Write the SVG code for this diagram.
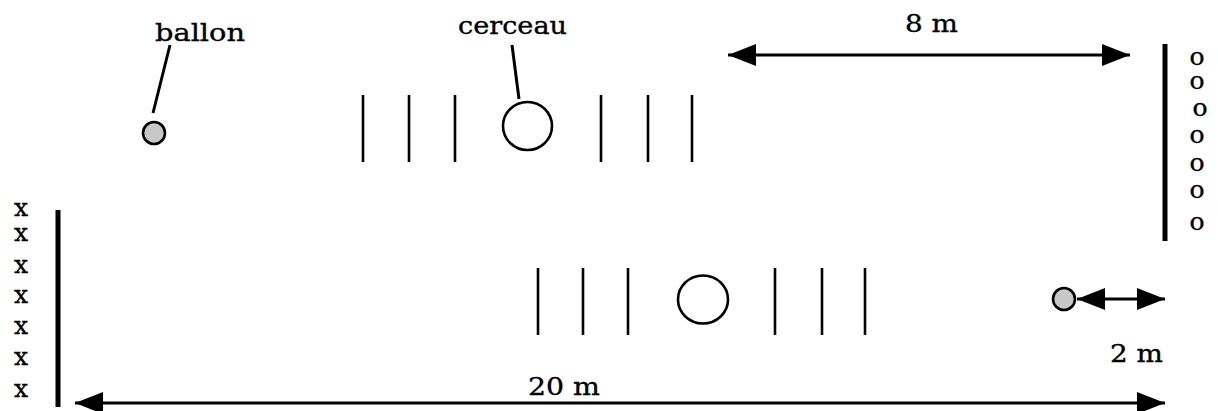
<svg xmlns="http://www.w3.org/2000/svg" width="1218" height="411" viewBox="0 0 1218 411">
<style>
text{font-family:"DejaVu Serif","Liberation Serif",serif;font-size:25px;fill:#000;stroke:#000;stroke-width:0.35}
.bar{stroke:#000;stroke-width:5}
.hurdle{stroke:#000;stroke-width:2.6}
.hoop{fill:none;stroke:#000;stroke-width:2.6}
.ball{fill:#c8c8c8;stroke:#000;stroke-width:2.6}
.leader{stroke:#000;stroke-width:3}
.arrow{stroke:#000;stroke-width:3;fill:none;marker-start:url(#ah);marker-end:url(#ah)}
</style>
<defs>
<marker id="ah" markerUnits="userSpaceOnUse" markerWidth="28" markerHeight="22" refX="28" refY="11" orient="auto-start-reverse" viewBox="0 0 28 22">
<path d="M0,0 L28,11 L0,22 z" fill="#000"/>
</marker>
</defs>
<g id="team-x">
<line class="bar" x1="58" y1="210" x2="58" y2="407"/>
<text x="21" y="216" text-anchor="middle">x</text>
<text x="21" y="241" text-anchor="middle">x</text>
<text x="21" y="273" text-anchor="middle">x</text>
<text x="21" y="303" text-anchor="middle">x</text>
<text x="21" y="334" text-anchor="middle">x</text>
<text x="21" y="365" text-anchor="middle">x</text>
<text x="21" y="397" text-anchor="middle">x</text>
</g>
<g id="team-o">
<line class="bar" x1="1165" y1="44" x2="1165" y2="241"/>
<text x="1197" y="65" text-anchor="middle">o</text>
<text x="1197" y="89" text-anchor="middle">o</text>
<text x="1200" y="116" text-anchor="middle">o</text>
<text x="1197" y="143" text-anchor="middle">o</text>
<text x="1197" y="171" text-anchor="middle">o</text>
<text x="1197" y="198" text-anchor="middle">o</text>
<text x="1197" y="230" text-anchor="middle">o</text>
</g>
<g id="ballon-top">
<text x="155" y="41" textLength="90" lengthAdjust="spacingAndGlyphs">ballon</text>
<line class="leader" x1="170" y1="45" x2="153" y2="113"/>
<circle class="ball" cx="154" cy="133" r="11"/>
</g>
<g id="course-top">
<text x="458" y="34" textLength="109" lengthAdjust="spacingAndGlyphs">cerceau</text>
<line class="leader" x1="512" y1="45" x2="519" y2="99"/>
<line class="hurdle" x1="363" y1="95" x2="363" y2="162"/>
<line class="hurdle" x1="409" y1="95" x2="409" y2="162"/>
<line class="hurdle" x1="455" y1="95" x2="455" y2="162"/>
<ellipse class="hoop" cx="527.5" cy="126" rx="24.5" ry="24"/>
<line class="hurdle" x1="601" y1="95" x2="601" y2="162"/>
<line class="hurdle" x1="648" y1="95" x2="648" y2="162"/>
<line class="hurdle" x1="692" y1="95" x2="692" y2="162"/>
</g>
<g id="course-bottom">
<line class="hurdle" x1="538" y1="268" x2="538" y2="335"/>
<line class="hurdle" x1="583" y1="268" x2="583" y2="335"/>
<line class="hurdle" x1="628" y1="268" x2="628" y2="335"/>
<ellipse class="hoop" cx="703" cy="299.5" rx="25" ry="24"/>
<line class="hurdle" x1="775" y1="268" x2="775" y2="335"/>
<line class="hurdle" x1="822" y1="268" x2="822" y2="335"/>
<line class="hurdle" x1="865" y1="268" x2="865" y2="335"/>
</g>
<g id="ballon-bottom">
<circle class="ball" cx="1064" cy="299" r="11"/>
</g>
<g id="connectors">
<line class="arrow" x1="728" y1="55" x2="1130" y2="55"/>
<line class="arrow" x1="1077" y1="299" x2="1165" y2="299"/>
<line class="arrow" x1="75" y1="403" x2="1165" y2="403"/>
</g>
<g id="labels">
<text x="905" y="32" textLength="53" lengthAdjust="spacingAndGlyphs">8 m</text>
<text x="1110" y="362" textLength="53" lengthAdjust="spacingAndGlyphs">2 m</text>
<text x="528" y="395" textLength="72" lengthAdjust="spacingAndGlyphs">20 m</text>
</g>
</svg>
